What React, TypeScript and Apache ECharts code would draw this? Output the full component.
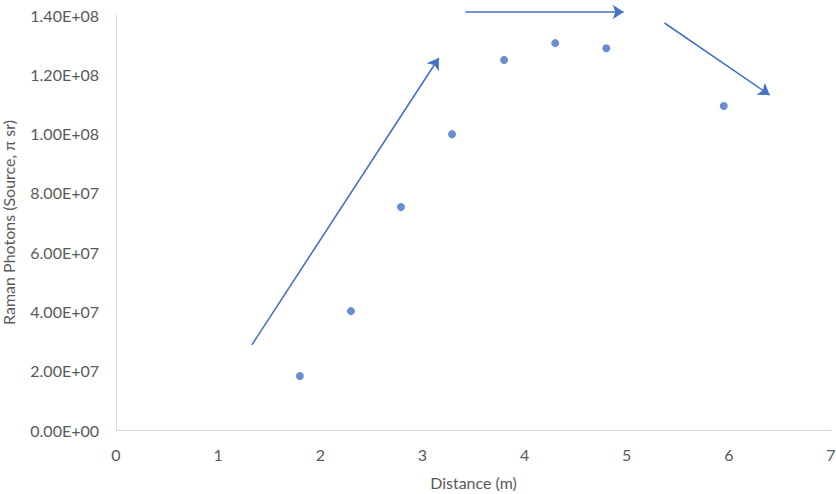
import React, { useEffect, useRef } from "react";
import * as echarts from "echarts";

const distances = [1.8, 2.3, 2.79, 3.29, 3.8, 4.3, 4.8, 5.95];
const photons = [1.82e7, 4.01e7, 7.52e7, 9.98e7, 1.248e8, 1.305e8, 1.288e8, 1.093e8];
// Trend arrows, in data coordinates: [start, end]
const arrowUp = [[1.33, 2.87e7], [3.16, 1.255e8]];
const arrowFlat = [[3.42, 1.41e8], [4.97, 1.41e8]];
const arrowDown = [[5.37, 1.373e8], [6.4, 1.13e8]];

const xTitle = "Distance (m)";
const yTitle = "Raman Photons (Source, π sr)";

const BLUE = "#4472C4";
const TEXT = "#595959";
const FONT = "Lato";

function sci(v: number): string {
  if (v === 0) return "0.00E+00";
  const e = Math.floor(Math.log10(Math.abs(v)));
  const m = v / Math.pow(10, e);
  const es = (e < 0 ? "-" : "+") + String(Math.abs(e)).padStart(2, "0");
  return m.toFixed(2) + "E" + es;
}

export default function App() {
  const ref = useRef<HTMLDivElement>(null);
  useEffect(() => {
    document.body.style.margin = "0";
    const chart = echarts.init(ref.current!, undefined, { renderer: "svg" });
    chart.setOption({
      animation: false,
      backgroundColor: "#ffffff",
      textStyle: { fontFamily: FONT },
      grid: { left: 116, right: 5, top: 15, bottom: 64, containLabel: false, outerBoundsMode: "none" },
      xAxis: {
        type: "value",
        min: 0,
        max: 7,
        interval: 1,
        name: xTitle,
        nameLocation: "middle",
        nameGap: 44,
        nameTextStyle: { color: TEXT, fontSize: 16, fontFamily: FONT },
        axisLine: { show: true, lineStyle: { color: "#d9d9d9", width: 1 } },
        axisTick: { show: false },
        splitLine: { show: false },
        axisLabel: { color: TEXT, fontSize: 16, fontFamily: FONT, margin: 16 },
      },
      yAxis: {
        type: "value",
        min: 0,
        max: 1.4e8,
        interval: 2e7,
        name: yTitle,
        nameLocation: "middle",
        nameGap: 100,
        nameRotate: 90,
        nameTextStyle: { color: TEXT, fontSize: 16, fontFamily: FONT },
        axisLine: { show: true, lineStyle: { color: "#d9d9d9", width: 1 } },
        axisTick: { show: false },
        splitLine: { show: false },
        axisLabel: { color: TEXT, fontSize: 16, fontFamily: FONT, margin: 17, formatter: (v: number) => sci(v) },
      },
      series: [
        {
          type: "scatter",
          data: distances.map((d, i) => [d, photons[i]]),
          symbol: "circle",
          symbolSize: 8,
          itemStyle: { color: BLUE },
        },
        {
          type: "lines",
          coordinateSystem: "cartesian2d",
          clip: false,
          symbol: ["none", "arrow"],
          symbolSize: 11,
          lineStyle: { color: BLUE, width: 1.6, opacity: 1 },
          data: [{ coords: arrowUp }, { coords: arrowFlat }, { coords: arrowDown }],
        },
      ],
    });
    return () => chart.dispose();
  }, []);
  return <div ref={ref} style={{ width: 836, height: 494 }} />;
}
